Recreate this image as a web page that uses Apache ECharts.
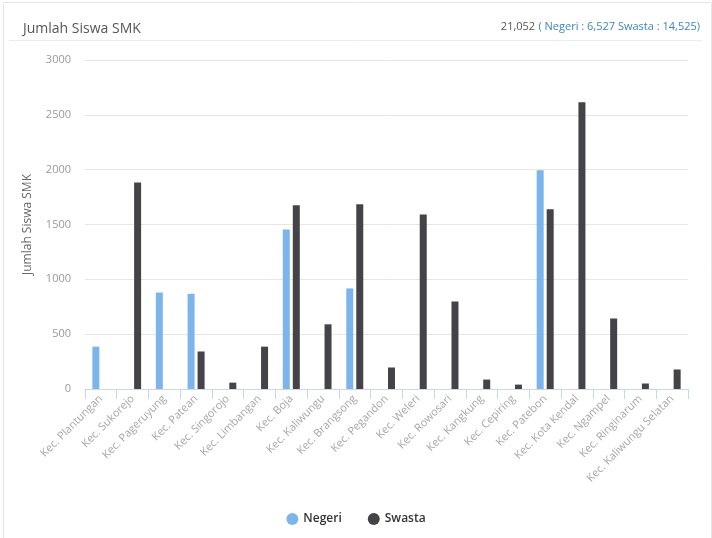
<!DOCTYPE html>
<html>
<head>
<meta charset="utf-8">
<script src="https://cdn.jsdelivr.net/npm/echarts@6/dist/echarts.min.js"></script>
<style>
html, body { margin: 0; padding: 0; background: #fff; }
#main { width: 712px; height: 538px; }
</style>
</head>
<body>
<div id="main"></div>
<script>
var kecamatan = ['Kec. Plantungan', 'Kec. Sukorejo', 'Kec. Pageruyung', 'Kec. Patean', 'Kec. Singorojo',
    'Kec. Limbangan', 'Kec. Boja', 'Kec. Kaliwungu', 'Kec. Brangsong', 'Kec. Pegandon', 'Kec. Weleri',
    'Kec. Rowosari', 'Kec. Kangkung', 'Kec. Cepiring', 'Kec. Patebon', 'Kec. Kota Kendal', 'Kec. Ngampel',
    'Kec. Ringinarum', 'Kec. Kaliwungu Selatan'];
var negeri = [386, 0, 880, 868, 0, 0, 1455, 0, 917, 0, 0, 0, 0, 0, 1995, 0, 0, 0, 0];
var swasta = [0, 1882, 0, 342, 58, 386, 1675, 590, 1684, 196, 1592, 798, 86, 40, 1638, 2614, 643, 50, 178];
var yTicks = [0, 500, 1000, 1500, 2000, 2500, 3000];

var myChart = echarts.init(document.getElementById('main'));
var font = 'Open Sans';
option = {
    textStyle: { fontFamily: font },
    title: {
        text: 'Jumlah Siswa SMK',
        left: 18,
        top: 17,
        textStyle: { fontSize: 14, fontWeight: 'normal', color: '#555', fontFamily: font }
    },
    graphic: [
        {
            type: 'rect', left: 1, top: 0, shape: { width: 708, height: 537 },
            style: { fill: 'none', stroke: '#e6e6e6', lineWidth: 1 }
        },
        {
            type: 'line', shape: { x1: 9, y1: 40.5, x2: 702, y2: 40.5 },
            style: { stroke: '#ececec', lineWidth: 1 }
        },
        {
            type: 'text', right: 12, top: 21,
            style: {
                text: '{a|21,052} {b|( Negeri : 6,527 Swasta : 14,525)}',
                rich: {
                    a: { fontSize: 11, fill: '#555', fontFamily: font },
                    b: { fontSize: 11, fill: '#3d85c6', fontFamily: font }
                }
            }
        }
    ],
    tooltip: { trigger: 'axis' },
    legend: {
        data: ['Negeri', 'Swasta'],
        bottom: 8,
        icon: 'circle',
        itemWidth: 12,
        itemHeight: 12,
        itemGap: 26,
        textStyle: { fontSize: 12, color: '#333', fontWeight: 600, fontFamily: font }
    },
    grid: { left: 85, right: 24, top: 60, bottom: 149, containLabel: false },
    xAxis: {
        type: 'category',
        data: kecamatan,
        axisLine: { lineStyle: { color: '#ccd6eb' } },
        axisTick: { show: true, length: 10, lineStyle: { color: '#ccd6eb' }, alignWithLabel: false },
        axisLabel: { rotate: 45, interval: 0, color: '#a6a6a6', fontSize: 11, margin: 8, fontFamily: font }
    },
    yAxis: {
        type: 'value',
        min: yTicks[0],
        max: yTicks[yTicks.length - 1],
        interval: 500,
        name: 'Jumlah Siswa SMK',
        nameLocation: 'middle',
        nameGap: 51,
        nameTextStyle: { color: '#666', fontSize: 12, fontFamily: font },
        axisLine: { show: false },
        axisTick: { show: false },
        axisLabel: {
            color: '#999', fontSize: 11, margin: 14, fontFamily: font,
            formatter: function (v) { return String(v); }
        },
        splitLine: { lineStyle: { color: '#e6e6e6' } }
    },
    series: [
        {
            name: 'Negeri',
            type: 'bar',
            data: negeri,
            barWidth: 7,
            barGap: '43%',
            itemStyle: { color: '#7cb5ec' }
        },
        {
            name: 'Swasta',
            type: 'bar',
            data: swasta,
            barWidth: 7,
            itemStyle: { color: '#434348' }
        }
    ]
};
myChart.setOption(option);
</script>
</body>
</html>
